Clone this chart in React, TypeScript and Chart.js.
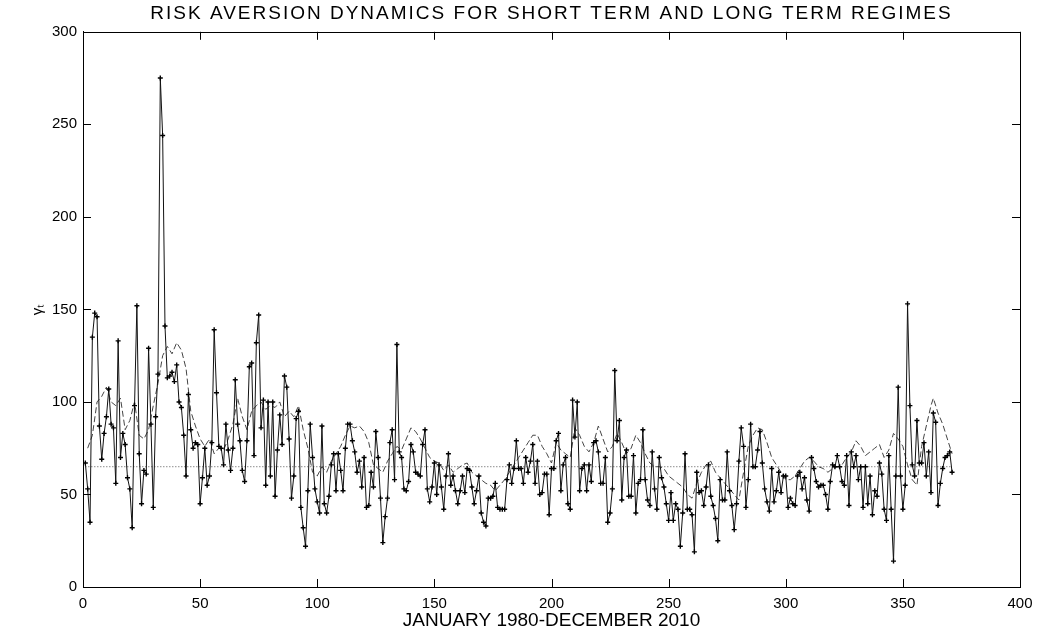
import React, { useEffect, useRef } from 'react';
import { Chart, registerables } from 'chart.js';

Chart.register(...registerables);

const TITLE = 'RISK AVERSION DYNAMICS FOR SHORT TERM AND LONG TERM REGIMES';
const X_LABEL = 'JANUARY 1980-DECEMBER 2010';
const Y_LABEL = 'γₜ';

const xTickValues = [0, 50, 100, 150, 200, 250, 300, 350, 400];
const yTickValues = [0, 50, 100, 150, 200, 250, 300];

// short-term regime (solid line with + markers), months 1..371
const shortTerm = [
  67, 53, 35, 135, 148, 146, 87, 69, 83, 92,
  107, 88, 86, 56, 133, 70, 83, 77, 59, 53,
  32, 98, 152, 72, 45, 63, 61, 129, 88, 43,
  92, 115, 275, 244, 141, 113, 114, 116, 111, 120,
  100, 97, 82, 60, 104, 85, 75, 78, 77, 45,
  59, 75, 55, 60, 78, 139, 105, 76, 75, 66,
  88, 74, 63, 75, 112, 88, 79, 63, 57, 79,
  119, 121, 71, 132, 147, 86, 101, 55, 100, 60,
  100, 49, 74, 93, 77, 114, 108, 80, 48, 60,
  91, 95, 43, 32, 22, 52, 88, 70, 53, 46,
  40, 87, 45, 40, 49, 66, 72, 52, 72, 63,
  52, 75, 88, 88, 79, 73, 62, 68, 54, 70,
  43, 44, 62, 54, 84, 70, 48, 24, 38, 48,
  78, 85, 58, 131, 73, 70, 53, 52, 57, 77,
  73, 62, 61, 60, 77, 85, 53, 46, 54, 67,
  50, 66, 54, 42, 60, 72, 55, 60, 52, 45,
  52, 60, 51, 64, 63, 54, 45, 52, 60, 40,
  35, 33, 48, 48, 49, 56, 43, 42, 42, 42,
  58, 66, 56, 64, 79, 64, 64, 56, 70, 62,
  68, 77, 56, 68, 50, 51, 61, 61, 39, 64,
  64, 79, 83, 52, 66, 70, 45, 42, 101, 81,
  100, 52, 64, 66, 52, 66, 57, 78, 79, 73,
  56, 56, 70, 35, 40, 53, 117, 79, 90, 47,
  70, 74, 49, 49, 71, 40, 56, 58, 85, 58,
  47, 44, 73, 53, 42, 70, 59, 54, 45, 36,
  51, 36, 45, 42, 22, 40, 72, 42, 42, 39,
  19, 62, 51, 52, 44, 54, 66, 49, 44, 37,
  25, 58, 47, 47, 73, 52, 44, 31, 45, 68,
  86, 76, 43, 58, 88, 65, 65, 74, 84, 67,
  53, 46, 41, 64, 46, 52, 62, 51, 60, 60,
  43, 48, 45, 44, 60, 62, 53, 59, 47, 41,
  70, 64, 57, 54, 55, 55, 50, 42, 57, 66,
  65, 71, 65, 57, 55, 71, 44, 73, 65, 71,
  58, 65, 43, 65, 45, 60, 39, 52, 49, 67,
  61, 42, 36, 71, 42, 14, 60, 108, 60, 42,
  55, 153, 98, 66, 60, 90, 67, 67, 78, 60,
  73, 51, 94, 89, 44, 56, 64, 70, 71, 73,
  62,
];

// long-term regime (dashed line), read at these months
const longTermMonths = [
  2, 4, 6, 8, 10, 12, 14, 16, 18, 20, 22, 24, 26, 28, 30, 32, 34, 36, 38, 40,
  42, 44, 46, 48, 50, 52, 54, 56, 58, 60, 62, 64, 66, 68, 70, 72, 74, 76, 78, 80,
  82, 84, 86, 88, 90, 92, 94, 96, 98, 100, 102, 104, 106, 108, 110, 112, 114, 116, 118, 120,
  122, 124, 126, 128, 130, 132, 134, 136, 138, 140, 142, 144, 146, 148, 150, 152, 154, 156, 158, 160,
  162, 164, 166, 168, 170, 172, 174, 176, 178, 180, 182, 184, 186, 188, 190, 192, 194, 196, 198, 200,
  202, 204, 206, 208, 210, 212, 214, 216, 218, 220, 222, 224, 226, 228, 230, 232, 234, 236, 238, 240,
  242, 244, 246, 248, 250, 252, 254, 256, 258, 260, 262, 264, 266, 268, 270, 272, 274, 276, 278, 280,
  282, 284, 286, 288, 290, 292, 294, 296, 298, 300, 302, 304, 306, 308, 310, 312, 314, 316, 318, 320,
  322, 324, 326, 328, 330, 332, 334, 336, 338, 340, 342, 344, 346, 348, 350, 352, 354, 356, 358, 360,
  362, 363, 365, 367, 369, 371,
];
const longTermValues = [
  75, 82, 100, 103, 108, 100, 98, 102, 85, 90, 100, 82, 80, 85, 98, 110, 125, 130, 126, 132,
  128, 118, 95, 87, 80, 76, 80, 72, 75, 74, 80, 88, 102, 92, 85, 95, 98, 100, 96, 98,
  97, 100, 92, 95, 92, 98, 85, 75, 62, 60, 65, 62, 68, 72, 76, 82, 87, 86, 87, 84,
  78, 66, 64, 62, 68, 72, 76, 74, 80, 86, 84, 80, 75, 70, 68, 67, 63, 66, 62, 64,
  66, 67, 62, 60, 58, 56, 55, 52, 55, 58, 62, 66, 70, 74, 78, 82, 82, 76, 72, 67,
  78, 74, 72, 70, 86, 82, 76, 73, 78, 87, 80, 73, 76, 83, 78, 72, 75, 82, 78, 72,
  67, 65, 65, 64, 60, 58, 56, 54, 50, 48, 56, 62, 66, 68, 62, 59, 56, 53, 50, 47,
  62, 76, 82, 86, 85, 78, 70, 66, 62, 58, 58, 60, 64, 68, 70, 68, 65, 64, 62, 64,
  65, 66, 70, 73, 79, 76, 71, 73, 75, 77, 70, 74, 83, 80, 76, 66, 58, 55, 76, 87,
  98, 102, 94, 88, 80, 72,
];

const MEAN_LEVEL = 65;
const MEAN_SPAN = [1, 371];

const innerTicks = {
  id: 'innerTicks',
  afterLayout(chart: any) {
    const tb = chart.titleBlock;
    if (tb && !tb.__spaced) {
      const orig = tb.draw.bind(tb);
      tb.draw = (...args: any[]) => {
        const c = chart.ctx;
        const prev = c.letterSpacing;
        c.letterSpacing = '2px';
        orig(...args);
        c.letterSpacing = prev || '0px';
      };
      tb.__spaced = true;
    }
  },
  afterDraw(chart: any) {
    const { ctx, chartArea, scales } = chart;
    const { left, right, top, bottom } = chartArea;
    const L = 8;
    ctx.save();
    ctx.strokeStyle = '#000';
    ctx.lineWidth = 1;
    ctx.beginPath();
    ctx.rect(Math.round(left) + 0.5, Math.round(top) + 0.5, Math.round(right - left), Math.round(bottom - top));
    scales.x.ticks.forEach((t: any) => {
      const px = Math.round(scales.x.getPixelForValue(t.value)) + 0.5;
      ctx.moveTo(px, bottom);
      ctx.lineTo(px, bottom - L);
      ctx.moveTo(px, top);
      ctx.lineTo(px, top + L);
    });
    scales.y.ticks.forEach((t: any) => {
      const py = Math.round(scales.y.getPixelForValue(t.value)) + 0.5;
      ctx.moveTo(left, py);
      ctx.lineTo(left + L, py);
      ctx.moveTo(right, py);
      ctx.lineTo(right - L, py);
    });
    ctx.stroke();
    ctx.restore();
  },
};

export default function App() {
  const ref = useRef<HTMLCanvasElement | null>(null);

  useEffect(() => {
    if (!ref.current) return;
    const font = "'Liberation Sans', Arial, Helvetica, sans-serif";
    const chart = new Chart(ref.current, {
      type: 'line',
      data: {
        datasets: [
          {
            label: 'short term',
            data: shortTerm.map((v, i) => ({ x: i + 1, y: v })),
            borderColor: '#111',
            borderWidth: 1,
            pointStyle: 'cross',
            pointRadius: 2.5,
            pointBorderColor: '#000',
            pointBorderWidth: 1.4,
            pointBackgroundColor: '#000',
            tension: 0,
          },
          {
            label: 'long term',
            data: longTermMonths.map((m, i) => ({ x: m, y: longTermValues[i] })),
            borderColor: '#444',
            borderWidth: 1,
            borderDash: [6, 3],
            pointRadius: 0,
            tension: 0,
          },
          {
            label: 'mean',
            data: MEAN_SPAN.map((m) => ({ x: m, y: MEAN_LEVEL })),
            borderColor: '#555',
            borderWidth: 1,
            borderDash: [1, 2],
            pointRadius: 0,
          },
        ],
      },
      options: {
        responsive: false,
        animation: false,
        layout: { padding: { left: 0, right: 23, top: 0, bottom: 0 } },
        plugins: {
          legend: { display: false },
          tooltip: { enabled: false },
          title: {
            display: true,
            text: TITLE,
            fullSize: false,
            color: '#000',
            font: { family: font, size: 19, weight: 'normal' },
            padding: { top: 2, bottom: 7 },
          },
        },
        scales: {
          x: {
            type: 'linear',
            min: 0,
            max: 400,
            afterBuildTicks: (s: any) => {
              s.ticks = xTickValues.map((v) => ({ value: v }));
            },
            afterFit: (s: any) => {
              s.height = 48;
            },
            grid: { display: false, drawTicks: false },
            border: { display: true, color: '#000', width: 1 },
            ticks: {
              color: '#000',
              font: { family: font, size: 15 },
              padding: 8,
              maxRotation: 0,
              autoSkip: false,
            },
            title: {
              display: true,
              text: X_LABEL,
              color: '#000',
              font: { family: font, size: 19 },
              padding: { top: 0, bottom: 3 },
            },
          },
          y: {
            type: 'linear',
            min: 0,
            max: 300,
            afterBuildTicks: (s: any) => {
              s.ticks = yTickValues.map((v) => ({ value: v }));
            },
            afterFit: (s: any) => {
              s.width = 83;
            },
            grid: { display: false, drawTicks: false },
            border: { display: true, color: '#000', width: 1 },
            ticks: {
              color: '#000',
              font: { family: font, size: 15 },
              padding: 6,
              autoSkip: false,
            },
            title: {
              display: true,
              text: Y_LABEL,
              color: '#000',
              font: { family: font, size: 15 },
              padding: { top: 29, bottom: 0 },
            },
          },
        },
      },
      plugins: [innerTicks],
    });
    return () => chart.destroy();
  }, []);

  return (
    <div style={{ position: 'absolute', left: 0, top: 0, width: 1043, height: 635, background: '#fff' }}>
      <canvas ref={ref} width={1043} height={635} style={{ display: 'block' }} />
    </div>
  );
}
